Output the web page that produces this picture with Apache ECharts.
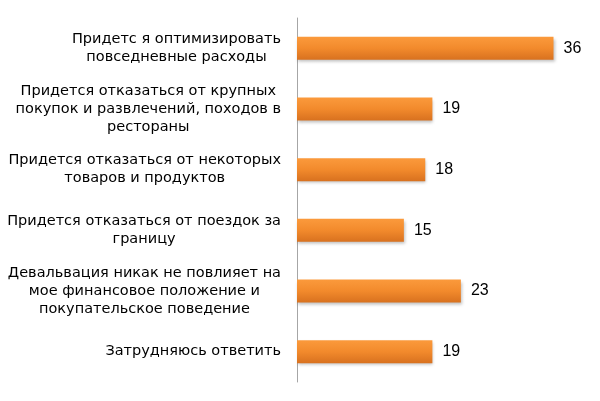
<!DOCTYPE html>
<html>
<head>
<meta charset="utf-8">
<script src="https://cdn.jsdelivr.net/npm/echarts@6/dist/echarts.min.js"></script>
<style>html,body{margin:0;padding:0;background:#fff}#c{width:600px;height:401px}</style>
</head>
<body>
<div id="c"></div>
<script>
var categories = [
  "Придетс я оптимизировать\nповседневные расходы",
  "Придется отказаться от крупных\nпокупок и развлечений, походов в\nрестораны",
  "Придется отказаться от некоторых\nтоваров и продуктов",
  "Придется отказаться от поездок за\nграницу",
  "Девальвация никак не повлияет на\nмое финансовое положение и\nпокупательское поведение",
  "Затрудняюсь ответить"
];
var values = [36, 19, 18, 15, 23, 19];

var labelFont = 'DejaVu Sans, Verdana, sans-serif';
var chart = echarts.init(document.getElementById('c'));
chart.setOption({
  animation: false,
  backgroundColor: '#ffffff',
  grid: { left: 297, right: 18, top: 18, bottom: 19 },
  xAxis: { type: 'value', min: 0, max: 40, show: false },
  yAxis: {
    type: 'category',
    data: categories,
    inverse: true,
    axisLine: { lineStyle: { color: '#a6a6a6', width: 1 } },
    axisTick: { length: 4, lineStyle: { color: '#a6a6a6' } },
    axisLabel: {
      margin: 16,
      align: 'right',
      color: '#000',
      fontFamily: labelFont,
      fontSize: 14.5,
      lineHeight: 18,
      formatter: function (v) {
        return v.split('\n').map(function (l) { return '{c|' + l + '}'; }).join('\n');
      },
      rich: { c: { align: 'center', fontSize: 14.5, lineHeight: 18, color: '#000', fontFamily: labelFont } }
    }
  },
  series: [{
    type: 'bar',
    data: values,
    barWidth: 23,
    itemStyle: {
      color: new echarts.graphic.LinearGradient(0, 0, 0, 1, [
        { offset: 0, color: '#fb9a3c' },
        { offset: 0.5, color: '#f28a2c' },
        { offset: 1, color: '#d8711f' }
      ]),
      shadowColor: 'rgba(0,0,0,0.25)',
      shadowBlur: 3,
      shadowOffsetY: 2,
      shadowOffsetX: 1
    },
    label: {
      show: true,
      position: 'right',
      distance: 10,
      color: '#000',
      fontSize: 16,
      fontFamily: 'Liberation Sans, Arial, sans-serif'
    }
  }]
});
</script>
</body>
</html>
